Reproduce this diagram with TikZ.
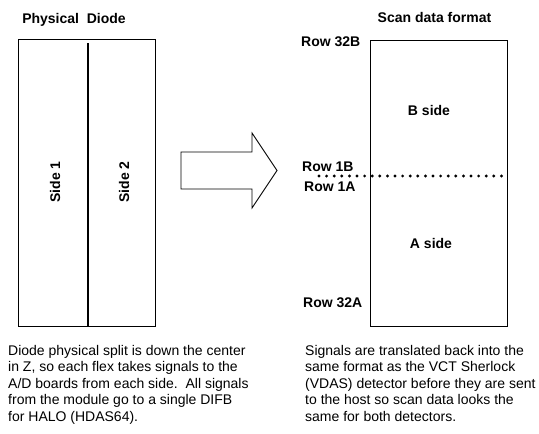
\documentclass[tikz,border=0pt]{standalone}
\usepackage{fontspec}
\setmainfont{Liberation Sans}
\begin{document}
\begin{tikzpicture}[x=1pt,y=-1pt,
  boxshape/.style={draw=black,line width=0.9pt,minimum width=137pt,inner sep=0pt,anchor=north west},
  lbl/.style={font=\fontsize{14}{16.5}\selectfont\bfseries,inner sep=0pt},
  para/.style={font=\fontsize{14}{16.5}\selectfont,align=left,inner sep=0pt,anchor=north west},
  dotline/.style={line width=3.2pt,line cap=round,dash pattern=on 0pt off 7.6pt}]
\useasboundingbox (0,0) rectangle (539,434);
% left box
\node[boxshape,minimum height=287pt] (diode) at (18,39) {};
\coordinate (divtop) at (88,43);
\coordinate (divbot) at (88,326);
\draw[line width=2pt] (divtop) -- (divbot);
\node[lbl] (title1) at (74,20) {Physical\ \ Diode};
\node[lbl,rotate=90] (side1) at (55,182) {Side 1};
\node[lbl,rotate=90] (side2) at (124,182) {Side 2};
% arrow
\draw[line width=0.9pt] (181,152) -- (252,152) -- (252,133) -- (277,170.5) -- (252,208) -- (252,189) -- (181,189) -- cycle;
% right box
\node[boxshape,minimum height=286pt] (scan) at (370,40) {};
\node[lbl] (title2) at (434.5,17) {Scan data format};
\node[lbl,anchor=west] (r32b) at (301,42) {Row 32B};
\node[lbl] (bside) at (429,110) {B side};
\node[lbl,anchor=west] (r1b) at (302,167) {Row 1B};
\node[lbl,anchor=west] (r1a) at (304,187) {Row 1A};
\node[lbl] (aside) at (431,243) {A side};
\node[lbl,anchor=west] (r32a) at (303,303) {Row 32A};
\coordinate (dotstart) at (319,176);
\coordinate (dotend) at (507,176);
\draw[dotline] (dotstart) -- (dotend);
% texts
\node[para] (txt1) at (8,345) {Diode physical split is down the center\\in Z, so each flex takes signals to the\\A/D boards from each side.\ \ All signals\\from the module go to a single DIFB\\for HALO (HDAS64).};
\node[para] (txt2) at (305,345) {Signals are translated back into the\\same format as the VCT Sherlock\\(VDAS) detector before they are sent\\to the host so scan data looks the\\same for both detectors.};
\end{tikzpicture}
\end{document}
